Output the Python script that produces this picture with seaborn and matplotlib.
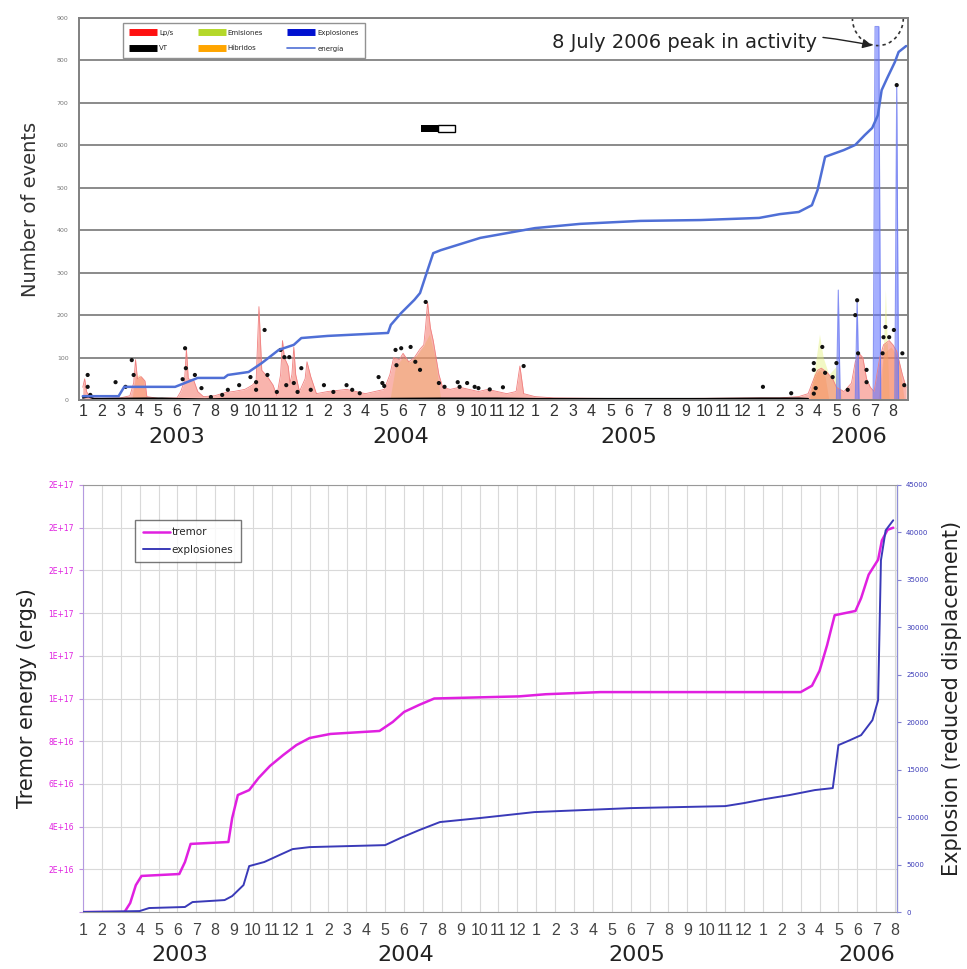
import pandas as pd
import matplotlib.pyplot as plt
import seaborn as sns
from matplotlib.lines import Line2D
from matplotlib.patches import Arc, Rectangle
from matplotlib.ticker import FuncFormatter, MultipleLocator
import matplotlib.transforms as mtransforms

# -------------------------------
# 1. Data (time in months since Jan 2003)
# -------------------------------
month_labels = [str(m) for m in range(1, 13)] * 3 + [str(m) for m in range(1, 9)]
years = ["2003", "2004", "2005", "2006"]

# cumulative energy (top panel)
energia_t = [0, 1.9, 2.2, 4.9, 6.1, 7.5, 7.7, 8.8, 9.1, 9.5, 10.4, 11.2, 11.6, 13.0, 16.2, 16.35,
             16.9, 17.6, 17.9, 18.3, 18.6, 19.0, 21.1, 24.0, 26.4, 29.6, 32.8, 35.9, 37.0, 38.0,
             38.7, 39.0, 39.4, 40.4, 41.0, 41.5, 41.9, 42.2, 42.4, 42.7, 43.1, 43.3, 43.7]
energia_v = [9, 9, 31, 31, 52, 52, 59, 66, 75, 87, 118, 130, 146, 151, 158, 177,
             205, 236, 252, 306, 346, 353, 382, 405, 415, 422, 424, 429, 438, 443,
             459, 495, 573, 589, 601, 624, 641, 671, 730, 759, 796, 820, 834]

# LP events
lp_t = [0.0, 0.1, 0.2, 0.4, 1.0, 2.0, 2.5, 2.7, 2.8, 2.9, 3.1, 3.3, 3.4, 4.0, 5.0, 5.2, 5.4, 5.5,
        5.6, 5.9, 6.1, 6.4, 7.0, 7.6, 8.0, 8.6, 9.0, 9.2, 9.35, 9.5, 9.8, 10.1, 10.3, 10.5, 10.6,
        10.7, 10.9, 11.0, 11.1, 11.2, 11.3, 11.5, 11.8, 11.9, 12.1, 12.4, 13.0, 14.0, 15.0, 15.5,
        16.0, 16.3, 16.5, 16.8, 17.0, 17.3, 17.6, 17.9, 18.1, 18.2, 18.3, 18.45, 18.6, 18.9, 19.1,
        19.5, 20.0, 20.5, 21.0, 21.5, 22.0, 22.5, 23.0, 23.2, 23.4, 24.0, 25.0, 27.0, 30.0, 33.0,
        36.0, 37.0, 38.0, 38.5, 38.8, 39.0, 39.2, 39.5, 39.8, 40.0, 40.4, 40.8, 41.0, 41.2, 41.4,
        41.6, 41.8, 42.0, 42.3, 42.5, 42.8, 43.0, 43.2, 43.5, 43.7]
lp_v = [30, 50, 20, 5, 4, 5, 10, 40, 95, 50, 55, 45, 8, 4, 5, 20, 45, 120,
        50, 45, 20, 8, 10, 18, 20, 25, 35, 45, 220, 70, 55, 35, 10, 60, 140,
        100, 80, 40, 60, 125, 60, 20, 50, 90, 55, 15, 20, 25, 15, 20,
        25, 60, 100, 95, 110, 90, 100, 120, 130, 175, 230, 170, 140, 60, 30,
        25, 30, 25, 20, 25, 20, 15, 20, 80, 15, 8, 5, 4, 3, 4,
        5, 5, 8, 15, 50, 70, 75, 65, 50, 30, 20, 40, 90, 110, 100,
        50, 30, 20, 100, 130, 140, 130, 115, 60, 30]

# emissions
emis_t = [16.3, 16.6, 17.0, 17.4, 17.8, 18.1, 18.4, 18.7, 19.0,
          38.6, 38.9, 39.1, 39.3, 39.6, 39.8, 40.0, 40.3, 42.4, 42.6, 42.8]
emis_v = [0, 80, 100, 90, 110, 130, 155, 100, 0,
          0, 90, 155, 100, 60, 70, 80, 0, 0, 260, 0]

# hybrids
hib_t = [2.6, 2.8, 3.0, 3.2, 3.4, 38.5, 38.8, 39.1, 39.4, 39.6, 42.2, 42.5, 42.9, 43.3, 43.6]
hib_v = [0, 55, 60, 50, 0, 0, 60, 70, 55, 0, 0, 110, 125, 100, 0]

# explosions
expl_t = [40.0, 40.1, 40.2, 41.0, 41.1, 41.2, 41.95, 42.05, 42.25, 42.35, 43.1, 43.2, 43.3]
expl_v = [0, 259, 0, 0, 235, 0, 0, 880, 880, 0, 0, 742, 0]

# VT (baseline line and single-day dots)
vt_t = [0.0, 0.3, 0.6, 3.4, 4.2, 5.0, 6.5, 7.5, 12.5, 15.0, 19.0, 22.0, 24.0, 27.0,
        30.0, 33.0, 36.0, 38.0, 38.5]
vt_v = [5, 8, 3, 4, 4, 3, 2, 3, 3, 3, 4, 4, 3, 3, 3, 3, 4, 4, 3]
dot_t = [0.26, 0.26, 0.4, 1.74, 2.27, 2.6, 2.7, 5.3, 5.43, 5.47, 5.95, 6.3, 6.8, 7.4, 7.7,
         8.3, 8.9, 9.2, 9.2, 9.65, 9.8, 10.3, 10.5, 10.7, 10.8, 10.96, 11.2, 11.4, 11.6, 12.1,
         12.8, 13.3, 14.0, 14.3, 14.7, 15.7, 15.9, 16.0, 16.6, 16.65, 16.9, 17.4, 17.65, 17.9,
         18.2, 18.9, 19.2, 19.9, 20.0, 20.4, 20.8, 21.0, 21.6, 22.3, 23.4, 36.1, 37.6, 38.8,
         38.8, 38.8, 38.9, 39.25, 39.4, 39.8, 40.0, 40.6, 41.0, 41.1, 41.15, 41.6, 41.6, 42.45,
         42.5, 42.6, 42.8, 43.05, 43.2, 43.5, 43.6]
dot_v = [59, 31, 12, 42, 31, 94, 59, 49, 122, 75, 59, 28, 7, 12, 24,
         35, 54, 42, 24, 165, 59, 19, 118, 101, 35, 101, 40, 19, 75, 24,
         35, 19, 35, 24, 16, 54, 40, 33, 118, 82, 122, 125, 90, 71,
         231, 40, 31, 42, 31, 40, 31, 28, 25, 30, 80, 31, 16, 15,
         87, 71, 28, 125, 64, 54, 87, 24, 200, 235, 110, 71, 42, 110,
         148, 172, 148, 165, 742, 110, 35]

# cumulative tremor energy (ergs) and explosions (reduced displacement), bottom panel
tremor_t = [0, 2.2, 2.5, 2.8, 3.1, 5.1, 5.4, 5.7, 7.7, 7.9, 8.2, 8.8, 9.3, 9.9, 10.6, 11.3,
            12.0, 13.1, 15.7, 16.4, 17.0, 17.8, 18.6, 23.1, 24.5, 27.4, 38.0, 38.6, 39.0, 39.4,
            39.8, 40.9, 41.2, 41.6, 42.1, 42.3, 42.6, 42.9]
tremor_v = [0, 0, 4.2e15, 1.26e16, 1.69e16, 1.78e16, 2.34e16, 3.19e16, 3.28e16, 4.40e16,
            5.48e16, 5.71e16, 6.28e16, 6.84e16, 7.35e16, 7.82e16, 8.15e16, 8.34e16, 8.48e16,
            8.90e16, 9.37e16, 9.70e16, 1.0e17, 1.01e17, 1.02e17, 1.03e17, 1.03e17, 1.06e17,
            1.13e17, 1.25e17, 1.39e17, 1.41e17, 1.47e17, 1.58e17, 1.65e17, 1.74e17, 1.79e17,
            1.80e17]
explo_t = [0, 3.0, 3.5, 5.4, 5.8, 7.5, 7.9, 8.5, 8.8, 9.6, 10.4, 11.1, 12.0, 16.0, 16.8,
           17.8, 18.9, 21.0, 23.9, 29.0, 34.0, 35.0, 36.1, 37.4, 38.75, 39.7, 40.0, 40.6,
           41.2, 41.8, 42.1, 42.25, 42.5, 42.9]
explo_v = [0, 100, 420, 530, 1050, 1260, 1680, 2840, 4840, 5270, 6000, 6630, 6840, 7050,
           7790, 8630, 9480, 9900, 10530, 10950, 11160, 11480, 11900, 12320, 12850, 13060,
           17590, 18100, 18640, 20220, 22320, 37060, 40220, 41280]

# -------------------------------
# 2. Figure setup
# -------------------------------
sns.set_style("white")
plt.rcParams['font.family'] = ['DejaVu Sans']
month_font = dict(family=['Liberation Sans', 'DejaVu Sans'], fontsize=11.5)

fig = plt.figure(figsize=(9.67, 9.69), dpi=100)
ax1 = fig.add_axes([0.0817, 0.5872, 0.8573, 0.3942])
ax2 = fig.add_axes([0.0858, 0.0588, 0.8418, 0.4407])
ax2r = ax2.twinx()

# -------------------------------
# 3. Top panel: number of events
# -------------------------------
ax1.fill_between(emis_t, emis_v, color='#e4f07c', alpha=0.45, lw=0)
ax1.fill_between(hib_t, hib_v, color='#ffc060', alpha=0.4, lw=0)
ax1.fill_between(lp_t, lp_v, color='#f46a5c', alpha=0.5, lw=0)
ax1.plot(lp_t, lp_v, color='#f08080', lw=0.6)
ax1.fill_between(expl_t, expl_v, color='#5a6cff', alpha=0.55, lw=0)
ax1.plot(expl_t, expl_v, color='#6f7cf0', lw=0.8, alpha=0.8)
ax1.plot(vt_t, vt_v, color='black', lw=1.2)
sns.scatterplot(x=dot_t, y=dot_v, ax=ax1, color='#111111', s=9, edgecolor='none', zorder=4)
sns.lineplot(x=energia_t, y=energia_v, ax=ax1, color='#4f6fd6', lw=1.8, estimator=None, zorder=5)

ax1.set_xlim(-0.2, 43.8)
ax1.set_ylim(0, 900)
ax1.yaxis.set_major_locator(MultipleLocator(100))
ax1.grid(axis='y', color='#8a8a8a', lw=1.4)
ax1.set_axisbelow(True)
for s in ax1.spines.values():
    s.set_color('#808080')
    s.set_linewidth(1.4)
ax1.tick_params(axis='y', labelsize=4.5, labelcolor='#777777', color='#777777', length=4)
ax1.set_xticks(range(44))
ax1.set_xticklabels(month_labels, color='#333333', **month_font)
ax1.tick_params(axis='x', length=0, pad=3)
ax1.set_ylabel("Number of events", fontsize=14, color='#333333', labelpad=12)

trans1 = mtransforms.blended_transform_factory(ax1.transData, ax1.transAxes)
for yr, xp in zip(years, [5.0, 16.9, 29.0, 41.2]):
    ax1.text(xp, -0.097, yr, transform=trans1, ha='center', va='center', fontsize=16, color='#222222')

handles = [Line2D([], [], color='#ff1010', lw=5, solid_capstyle='butt'),
           Line2D([], [], color='black', lw=5, solid_capstyle='butt'),
           Line2D([], [], color='#b4d82a', lw=5, solid_capstyle='butt'),
           Line2D([], [], color='#ffa500', lw=5, solid_capstyle='butt'),
           Line2D([], [], color='#0010d0', lw=5, solid_capstyle='butt'),
           Line2D([], [], color='#4f6fd6', lw=1.2)]
labels = ["Lp/s", "VT", "Emisiones", "Híbridos", "Explosiones", "energía"]
leg1 = ax1.legend(handles, labels, ncol=3, loc='upper left', bbox_to_anchor=(0.049, 0.995),
                  fontsize=5, handlelength=4, columnspacing=3.5, labelspacing=1.4,
                  frameon=True, fancybox=False, borderpad=0.9, handletextpad=0.3)
leg1.get_frame().set_edgecolor('#777777')
leg1.get_frame().set_linewidth(1.0)

# annotation for the peak
ax1.annotate("8 July 2006 peak in activity", xy=(41.9, 835), xytext=(24.9, 843),
             fontsize=14, color='#222222', va='center',
             arrowprops=dict(arrowstyle='-|>', color='#222222', lw=1,
                             connectionstyle='arc3,rad=-0.1', shrinkA=2, shrinkB=0))
ax1.add_patch(Arc((42.2, 900), 2.7, 130, theta1=150, theta2=30, ls=(0, (2, 2)),
                  color='#333333', lw=1.2, clip_on=False))
ax1.add_patch(Rectangle((17.95, 632), 0.9, 16, color='black', lw=0))
ax1.add_patch(Rectangle((18.85, 632), 0.9, 16, facecolor='white', edgecolor='black', lw=1))

# -------------------------------
# 4. Bottom panel: cumulative tremor and explosions
# -------------------------------
sns.lineplot(x=tremor_t, y=tremor_v, ax=ax2, color='#e020e0', lw=1.8, estimator=None)
sns.lineplot(x=explo_t, y=explo_v, ax=ax2r, color='#3a3ab8', lw=1.4, estimator=None)

ax2.set_xlim(0, 43.1)
ax2.set_ylim(0, 2e17)
ax2r.set_ylim(0, 45000)
ax2.set_yticks([i * 2e16 for i in range(11)])
ax2.yaxis.set_major_formatter(FuncFormatter(lambda v, p: "" if v == 0 else f"{v:.0E}"))
ax2r.yaxis.set_major_locator(MultipleLocator(5000))
ax2.set_xticks(range(44))
ax2.set_xticklabels(month_labels, color='#444444', **month_font)
ax2.tick_params(axis='x', length=4, color='#888888', pad=6, direction='inout')
ax2.tick_params(axis='y', labelsize=5.5, labelcolor='#e020e0', length=3, color='#c090e0')
ax2r.tick_params(axis='y', labelsize=5, labelcolor='#3a3ab8', length=3, color='#8080d0')
ax2.grid(True, color='#d9d9d9', lw=0.8)
ax2.set_axisbelow(True)
for s in ['top', 'bottom']:
    ax2.spines[s].set_color('#999999')
ax2.spines['left'].set_color('#b49ae0')
ax2r.spines['right'].set_color('#8f8fd8')
ax2r.spines['left'].set_visible(False)
ax2r.spines['top'].set_visible(False)
ax2r.spines['bottom'].set_visible(False)
ax2.set_ylabel("Tremor energy (ergs)", fontsize=15, color='#222222', labelpad=8)
ax2r.set_ylabel("Explosion (reduced displacement)", fontsize=15, color='#222222', labelpad=10)

trans2 = mtransforms.blended_transform_factory(ax2.transData, ax2.transAxes)
for yr, xp in zip(years, [5.1, 17.1, 29.3, 41.5]):
    ax2.text(xp, -0.1, yr, transform=trans2, ha='center', va='center', fontsize=16, color='#222222')

h2 = [Line2D([], [], color='#e020e0', lw=1.8), Line2D([], [], color='#3a3ab8', lw=1.4)]
leg2 = ax2.legend(h2, ["tremor", "explosiones"], loc='upper left', bbox_to_anchor=(0.058, 0.93),
                  fontsize=7.5, handlelength=2.6, frameon=True, fancybox=False,
                  borderpad=0.7, handletextpad=0.2, labelspacing=0.7)
leg2.get_frame().set_edgecolor('#555555')

fig.savefig("out.png", dpi=100)
plt.close(fig)
